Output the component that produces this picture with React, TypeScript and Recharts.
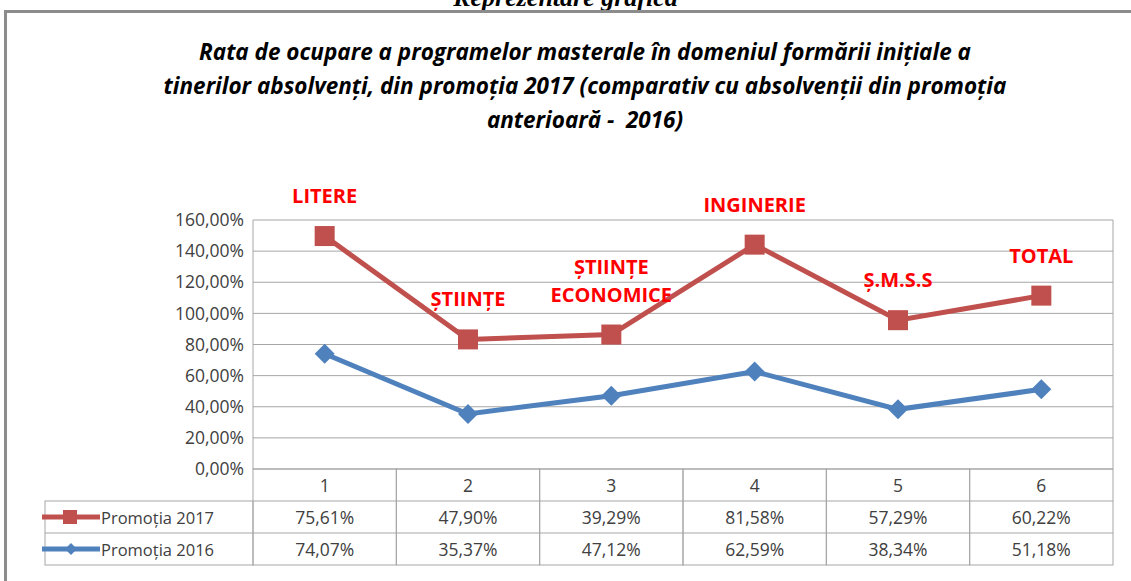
import { ComposedChart, Area, XAxis, YAxis, CartesianGrid, LabelList } from 'recharts'

const categories = ['1', '2', '3', '4', '5', '6']
const domainLabels = ['LITERE', 'ȘTIINȚE', 'ȘTIINȚE\nECONOMICE', 'INGINERIE', 'Ș.M.S.S', 'TOTAL']
const promotia2017 = [75.61, 47.9, 39.29, 81.58, 57.29, 60.22]
const promotia2016 = [74.07, 35.37, 47.12, 62.59, 38.34, 51.18]
const yTicks = [0, 20, 40, 60, 80, 100, 120, 140, 160]

const titleLines = [
  'Rata de ocupare a programelor masterale în domeniul formării inițiale a',
  'tinerilor absolvenți, din promoția 2017 (comparativ cu absolvenții din promoția',
  'anterioară -  2016)',
]

const data = categories.map((c, i) => ({
  cat: c,
  p2016: promotia2016[i],
  p2017: promotia2017[i],
}))

const W = 1131
const H = 581
const PLOT_L = 253
const PLOT_R = 1113
const PLOT_T = 220
const PLOT_B = 469
const ROW = 32
const Y_AXIS_W = 100
const X_AXIS_H = 96
const COL_W = (PLOT_R - PLOT_L) / categories.length

const RED = '#C0504D'
const BLUE = '#4F81BD'
const GRID = '#a6a6a6'
const TEXT = '#404040'
const FONT = '"Open Sans", sans-serif'

const fmt = (v: number) => `${v.toFixed(2).replace('.', ',')}%`

const SquareDot = (p: any) => {
  if (p.cx == null || p.cy == null) return null
  return <rect key={`s${p.index}`} x={p.cx - 10} y={p.cy - 10} width={20} height={20} fill={RED} />
}

const DiamondDot = (p: any) => {
  if (p.cx == null || p.cy == null) return null
  const s = 10
  return (
    <path
      key={`d${p.index}`}
      d={`M${p.cx},${p.cy - s} L${p.cx + s},${p.cy} L${p.cx},${p.cy + s} L${p.cx - s},${p.cy} Z`}
      fill={BLUE}
    />
  )
}

// x axis tick doubles as a column of the data table
const TableTick = (p: any) => {
  const i = p.index
  const x0 = p.x - COL_W / 2
  const txt = { textAnchor: 'middle' as const, dominantBaseline: 'central' as const, fill: TEXT, fontSize: 17.5, fontFamily: FONT }
  return (
    <g>
      <rect x={x0} y={PLOT_B} width={COL_W} height={ROW * 3} fill="none" stroke={GRID} />
      <line x1={x0} x2={x0 + COL_W} y1={PLOT_B + ROW} y2={PLOT_B + ROW} stroke={GRID} />
      <line x1={x0} x2={x0 + COL_W} y1={PLOT_B + ROW * 2} y2={PLOT_B + ROW * 2} stroke={GRID} />
      <text x={p.x} y={PLOT_B + ROW / 2} {...txt}>{categories[i]}</text>
      <text x={p.x} y={PLOT_B + ROW * 1.5} {...txt}>{fmt(promotia2017[i])}</text>
      <text x={p.x} y={PLOT_B + ROW * 2.5} {...txt}>{fmt(promotia2016[i])}</text>
    </g>
  )
}

const DomainLabel = (p: any) => {
  const lines = domainLabels[p.index].split('\n')
  return (
    <text x={p.x} textAnchor="middle" fill="#FF0000" fontSize={20} fontWeight="bold" fontFamily={FONT}>
      {lines.map((l, k) => (
        <tspan key={k} x={p.x} y={p.y - 33 - (lines.length - 1 - k) * 28}>
          {l}
        </tspan>
      ))}
    </text>
  )
}

export default function App() {
  return (
    <div style={{ position: 'fixed', left: 0, top: 0, width: W, height: H, background: '#fff', overflow: 'hidden' }}>
      <div
        style={{
          position: 'absolute', left: 0, top: -17, width: W, textAlign: 'center',
          fontFamily: '"Liberation Serif", serif', fontStyle: 'italic', fontWeight: 'bold', fontSize: 26,
        }}
      >
        Reprezentare grafică
      </div>
      <div style={{ position: 'absolute', left: 4, top: 10, width: 1200, height: 700, borderLeft: '3px solid #8c8c8c', borderTop: '3px solid #8c8c8c' }} />
      <div style={{ position: 'absolute', left: 0, top: 35, width: 1170, textAlign: 'center' }}>
        {titleLines.map((t) => (
          <div key={t} style={{ fontFamily: FONT, fontStyle: 'italic', fontWeight: 'bold', fontSize: 22.5, lineHeight: '34px', color: '#000', whiteSpace: 'pre' }}>
            {t}
          </div>
        ))}
      </div>
      <div style={{ position: 'absolute', left: 0, top: 0 }}>
        <ComposedChart
          width={W}
          height={H}
          data={data}
          margin={{ top: PLOT_T, right: W - PLOT_R, left: PLOT_L - Y_AXIS_W, bottom: H - PLOT_B - X_AXIS_H }}
        >
          <CartesianGrid stroke={GRID} vertical={false} horizontalValues={yTicks} />
          <XAxis
            dataKey="cat"
            height={X_AXIS_H}
            axisLine={false}
            tickLine={false}
            interval={0}
            padding={{ left: COL_W / 2, right: COL_W / 2 }}
            tick={<TableTick />}
          />
          <YAxis
            width={Y_AXIS_W}
            domain={[0, 160]}
            ticks={yTicks}
            tickFormatter={fmt}
            axisLine={{ stroke: GRID }}
            tickLine={false}
            tick={{ fill: TEXT, fontSize: 17.5, fontFamily: FONT }}
            tickMargin={3}
          />
          <Area
            type="linear"
            dataKey="p2016"
            stackId="s"
            stroke={BLUE}
            strokeWidth={5}
            fill="none"
            dot={DiamondDot}
            activeDot={false}
            isAnimationActive={false}
          />
          <Area
            type="linear"
            dataKey="p2017"
            stackId="s"
            stroke={RED}
            strokeWidth={5}
            fill="none"
            dot={SquareDot}
            activeDot={false}
            isAnimationActive={false}
          >
            <LabelList content={<DomainLabel />} />
          </Area>
        </ComposedChart>
      </div>
      <svg style={{ position: 'absolute', left: 0, top: 0 }} width={W} height={H}>
        <line x1={PLOT_R} x2={PLOT_R} y1={PLOT_T} y2={PLOT_B} stroke={GRID} />
        <rect x={45} y={PLOT_B + ROW} width={PLOT_L - 45} height={ROW * 2} fill="none" stroke={GRID} />
        <line x1={45} x2={PLOT_L} y1={PLOT_B + ROW * 2} y2={PLOT_B + ROW * 2} stroke={GRID} />
        <line x1={42} x2={100} y1={PLOT_B + ROW * 1.5} y2={PLOT_B + ROW * 1.5} stroke={RED} strokeWidth={5} />
        <rect x={63} y={PLOT_B + ROW * 1.5 - 7} width={14} height={14} fill={RED} />
        <line x1={42} x2={100} y1={PLOT_B + ROW * 2.5} y2={PLOT_B + ROW * 2.5} stroke={BLUE} strokeWidth={5} />
        <path
          d={`M71,${PLOT_B + ROW * 2.5 - 6} L77,${PLOT_B + ROW * 2.5} L71,${PLOT_B + ROW * 2.5 + 6} L65,${PLOT_B + ROW * 2.5} Z`}
          fill={BLUE}
        />
        <text x={101} y={PLOT_B + ROW * 1.5} dominantBaseline="central" fill={TEXT} fontSize={16.5} fontFamily={FONT}>
          Promoția 2017
        </text>
        <text x={101} y={PLOT_B + ROW * 2.5} dominantBaseline="central" fill={TEXT} fontSize={16.5} fontFamily={FONT}>
          Promoția 2016
        </text>
      </svg>
    </div>
  )
}
